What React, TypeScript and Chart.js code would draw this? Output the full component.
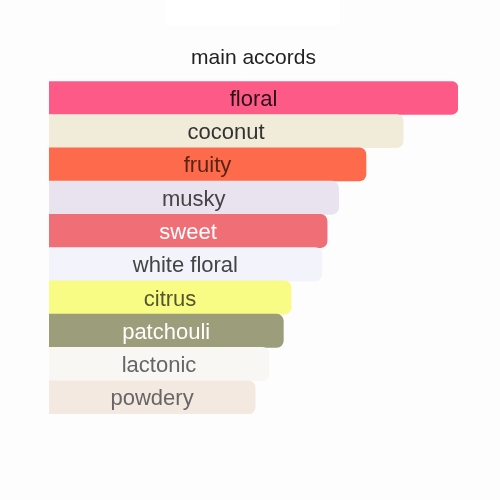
import { useEffect, useRef } from 'react';
import Chart from 'chart.js/auto';

const accords = ['floral', 'coconut', 'fruity', 'musky', 'sweet', 'white floral', 'citrus', 'patchouli', 'lactonic', 'powdery'];
const strengths = [100, 86.6, 77.5, 70.8, 68.0, 66.7, 59.2, 57.3, 53.8, 50.4];
const barColors = ['#fe5a87', '#f1ebda', '#fe6b4c', '#e9e3ef', '#f06e75', '#f2f3fb', '#f9fc84', '#9c9d7a', '#f9f7f4', '#f4e9e1'];
const textColors = ['#2a0f18', '#333333', '#5a2414', '#444444', '#ffffff', '#444444', '#555530', '#ffffff', '#666666', '#666666'];

const barLabels = {
    id: 'barLabels',
    afterDatasetsDraw(chart: any) {
        const ctx = chart.ctx;
        const meta = chart.getDatasetMeta(0);
        const left = chart.scales.x.getPixelForValue(0);
        ctx.save();
        ctx.textAlign = 'center';
        ctx.textBaseline = 'middle';
        ctx.font = '22px "Liberation Sans", Arial, sans-serif';
        meta.data.forEach((bar: any, i: number) => {
            ctx.fillStyle = textColors[i];
            ctx.fillText(accords[i], (left + bar.x) / 2, bar.y + 2);
        });
        ctx.restore();
    },
};

export default function App() {
    const canvasRef = useRef<HTMLCanvasElement | null>(null);

    useEffect(() => {
        document.body.style.margin = '0';
        document.body.style.background = '#fdfdfd';
        if (!canvasRef.current) {
            return;
        }

        const chart = new Chart(canvasRef.current, {
            type: 'bar',
            data: {
                labels: accords,
                datasets: [
                    {
                        data: strengths,
                        backgroundColor: barColors,
                        borderRadius: 7,
                        borderSkipped: 'start',
                        categoryPercentage: 1,
                        barPercentage: 1,
                    },
                ],
            },
            options: {
                indexAxis: 'y',
                animation: false,
                responsive: true,
                maintainAspectRatio: false,
                layout: { padding: { left: 49, right: 42, top: 0, bottom: 86 } },
                scales: {
                    x: { display: false, min: 0, max: 100 },
                    y: { display: false },
                },
                plugins: {
                    legend: { display: false },
                    tooltip: { enabled: false },
                    title: {
                        display: true,
                        text: 'main accords',
                        color: '#222222',
                        font: { size: 21, weight: 'normal', family: '"Liberation Sans", Arial, sans-serif' },
                        padding: { top: 46, bottom: 10 },
                    },
                },
            },
            plugins: [barLabels],
        });
        return () => chart.destroy();
    }, []);

    return (
        <div style={{ position: 'relative', width: '500px', height: '500px', background: '#fdfdfd' }}>
            <div style={{ position: 'absolute', left: '165px', top: 0, width: '175px', height: '25px', background: '#ffffff' }} />
            <div style={{ position: 'absolute', inset: 0 }}>
                <canvas ref={canvasRef} />
            </div>
        </div>
    );
}
